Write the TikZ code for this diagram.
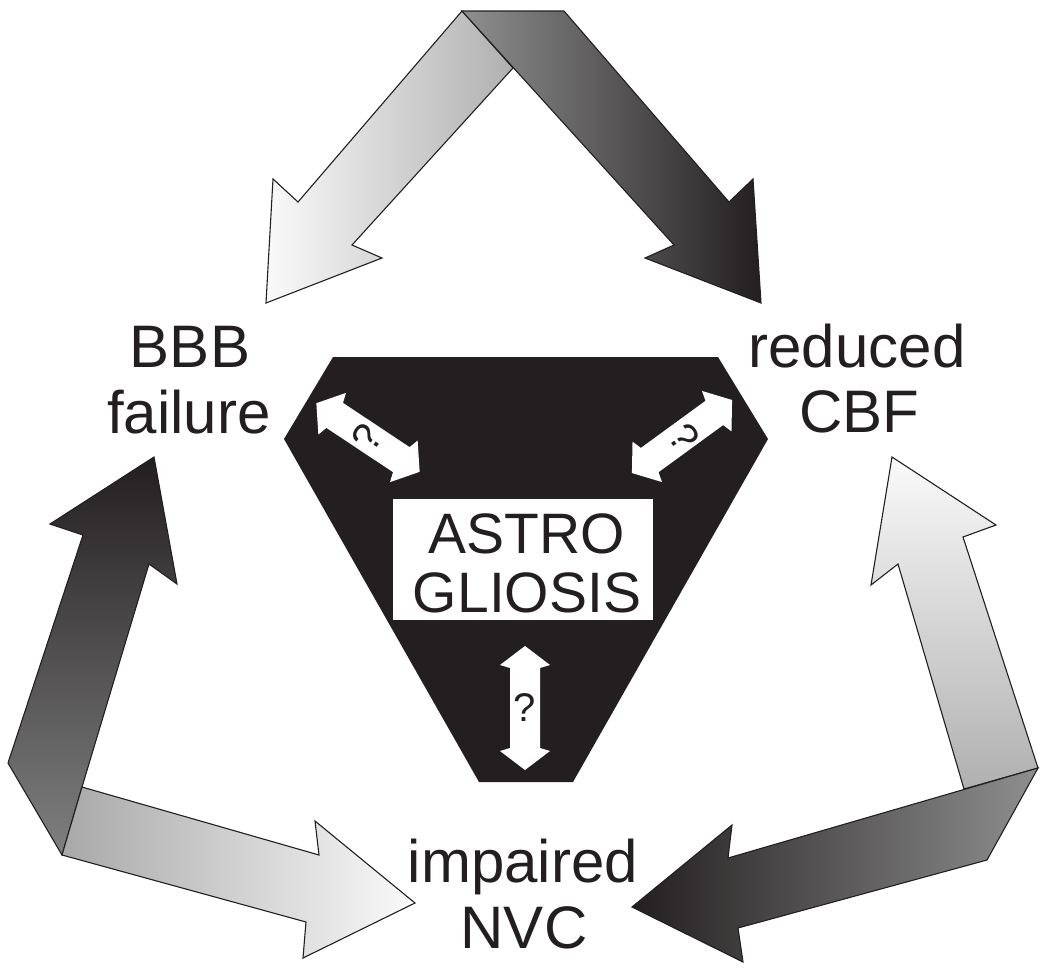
\documentclass[tikz,border=0pt]{standalone}
\usepackage{fontspec}
\setmainfont{Liberation Sans}
\definecolor{ink}{HTML}{231F20}
\definecolor{lg}{gray}{0.69}
\definecolor{mg}{gray}{0.56}
\definecolor{lgb}{gray}{0.66}
\definecolor{dg}{gray}{0.50}
\definecolor{wh}{gray}{0.98}
\begin{document}
\begin{tikzpicture}[x=1pt,y=-1pt,
  band/.style={draw=ink, line width=1.1pt, line join=miter},
  lbl/.style={font=\fontsize{60}{66}\selectfont, text=ink, anchor=base, inner sep=0pt},
  astro/.style={font=\fontsize{57}{59}\selectfont, text=ink, anchor=base, inner sep=0pt},
  qmark/.style={font=\fontsize{40}{44}\selectfont, text=ink, inner sep=0pt},
  dbl/.pic={\fill[white] (-62,0) -- (-43,25) -- (-40,15) -- (40,15) -- (43,25) -- (62,0)
      -- (43,-25) -- (40,-15) -- (-40,-15) -- (-43,-25) -- cycle;}]
\useasboundingbox (0,0) rectangle (1050,978);

% top chevron
\path[band, left color=wh, right color=lg]
  (462,11) -- (298,202) -- (273,179) -- (266,303) -- (382,258) -- (352,245) -- (513,68) -- cycle;
\path[band, left color=mg, right color=ink]
  (462,11) -- (564,11) -- (729,202) -- (753,179) -- (761,303) -- (645,258) -- (674,245) -- cycle;

% left chevron
\path[band, top color=ink, bottom color=dg]
  (83,535) -- (8,763) -- (62,855) -- (82,787) -- (149,564) -- (177,584) -- (154,457) -- (50,524) -- cycle;
\path[band, left color=lgb, right color=wh]
  (82,787) -- (319,855) -- (315,821) -- (415,903) -- (303,958) -- (306,922) -- (62,855) -- cycle;

% right chevron
\path[band, top color=wh, bottom color=lg]
  (892,457) -- (996,525) -- (963,537) -- (1038,768) -- (964,789) -- (898,564) -- (871,585) -- cycle;
\path[band, left color=ink, right color=mg]
  (1038,768) -- (987,860) -- (738,928) -- (743,962) -- (632,907) -- (732,825) -- (728,858) -- cycle;

% central hexagon
\fill[ink] (333,357) -- (718,357) -- (768,439) -- (573,782) -- (479,782) -- (284,439) -- cycle;
\node[fill=white, minimum width=260, minimum height=121, inner sep=0pt] (box) at (523,559.5) {};
\node[astro] (astro1) at (527,553) {ASTRO};
\node[astro] (astro2) at (527,612) {GLIOSIS};

% double arrows with question marks
\pic[rotate=-33.6] at (368,437.5) {dbl};
\pic[rotate=36.1] at (682,436.5) {dbl};
\pic[rotate=90] at (525,708) {dbl};
\node[qmark, rotate=56.4] (q1) at (367,437) {?};
\node[qmark, rotate=-53.9] (q2) at (684,437) {?};
\node[qmark] (q3) at (525,708) {?};

% labels
\node[lbl] (bbb1) at (190,367) {BBB};
\node[lbl] (bbb2) at (189,433) {failure};
\node[lbl] (cbf1) at (857,367) {reduced};
\node[lbl] (cbf2) at (859,432) {CBF};
\node[lbl] (nvc1) at (523,882) {impaired};
\node[lbl] (nvc2) at (524,948) {NVC};
\end{tikzpicture}
\end{document}
